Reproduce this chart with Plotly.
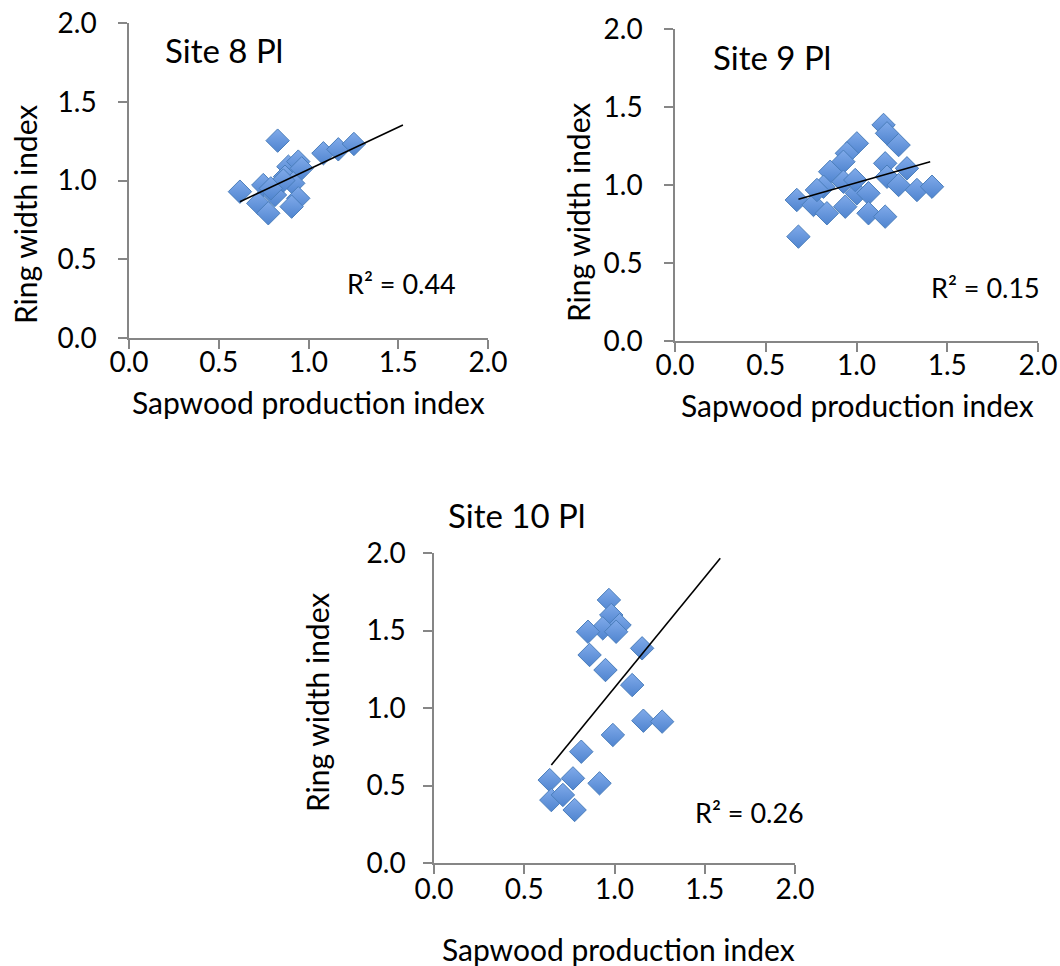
import plotly.graph_objects as go

# ---------------- data ----------------
site8_x = [0.828, 1.083, 1.166, 1.253, 0.618, 0.748, 0.720, 0.776, 0.888, 0.943,
           0.962, 0.869, 0.915, 0.943, 0.906, 0.813, 0.860, 0.790]
site8_y = [1.253, 1.173, 1.198, 1.232, 0.929, 0.971, 0.855, 0.792, 1.088, 1.120,
           1.077, 1.024, 0.982, 0.887, 0.834, 0.908, 1.000, 0.950]
site8_fit_x = [0.618, 1.526]
site8_fit_y = [0.865, 1.352]
site8_r2 = "R² = 0.44"

site9_x = [1.149, 1.168, 1.232, 1.002, 0.947, 0.928, 0.855, 1.158, 1.278, 1.168,
           1.232, 1.333, 1.416, 0.671, 0.763, 0.818, 0.837, 0.928, 1.002, 0.938,
           1.066, 1.066, 1.158, 0.680, 0.993, 0.782]
site9_y = [1.385, 1.331, 1.256, 1.267, 1.203, 1.149, 1.085, 1.139, 1.107, 1.053,
           1.000, 0.968, 0.989, 0.904, 0.872, 0.989, 0.819, 1.021, 0.947, 0.861,
           0.947, 0.819, 0.797, 0.669, 1.032, 0.968]
site9_fit_x = [0.680, 1.406]
site9_fit_y = [0.908, 1.149]
site9_r2 = "R² = 0.15"

site10_x = [0.969, 0.982, 1.028, 0.935, 1.009, 0.853, 0.862, 1.153, 0.950, 1.098,
            1.160, 1.264, 0.991, 0.816, 0.641, 0.770, 0.917, 0.650, 0.714, 0.779]
site10_y = [1.697, 1.600, 1.535, 1.514, 1.492, 1.492, 1.342, 1.385, 1.245, 1.148,
            0.918, 0.912, 0.826, 0.718, 0.535, 0.546, 0.514, 0.406, 0.439, 0.342]
site10_fit_x = [0.650, 1.586]
site10_fit_y = [0.632, 1.966]
site10_r2 = "R² = 0.26"

titles = ["Site 8 Pl", "Site 9 Pl", "Site 10 Pl"]
x_title = "Sapwood production index"
y_title = "Ring width index"
tick_vals = [0.0, 0.5, 1.0, 1.5, 2.0]
tick_text = ["0.0", "0.5", "1.0", "1.5", "2.0"]

# ---------------- layout helpers ----------------
W, H = 1060, 966
FONT = "Lato"
AXIS_COLOR = "#868686"
MARKER_FILL = "#80AAEA"
MARKER_GRAD = "#4F84CF"
MARKER_LINE = "#4A7EBB"


def px(x):
    return x / W


def py(y):
    return 1 - y / H


# pixel boxes of each plot area: (left, right, top, bottom)
boxes = [(129, 488, 23, 338), (675, 1038, 29, 341), (434, 795, 553, 863)]
x_label_standoff = [-10, -10, -8]
y_label_standoff = [16, 16, 12]

fig = go.Figure()
series = [
    (site8_x, site8_y, site8_fit_x, site8_fit_y),
    (site9_x, site9_y, site9_fit_x, site9_fit_y),
    (site10_x, site10_y, site10_fit_x, site10_fit_y),
]
for i, (sx, sy, fx, fy) in enumerate(series):
    n = "" if i == 0 else str(i + 1)
    fig.add_trace(go.Scatter(
        x=sx, y=sy, mode="markers", xaxis="x" + n, yaxis="y" + n,
        marker=dict(symbol="diamond", size=18, color=MARKER_FILL,
                    gradient=dict(type="vertical", color=MARKER_GRAD),
                    line=dict(color=MARKER_LINE, width=1)),
        showlegend=False, hoverinfo="skip"))
    fig.add_trace(go.Scatter(
        x=fx, y=fy, mode="lines", xaxis="x" + n, yaxis="y" + n,
        line=dict(color="black", width=1.6),
        showlegend=False, hoverinfo="skip"))

axis_common = dict(
    range=[0, 2], tickvals=tick_vals, ticktext=tick_text,
    showgrid=False, zeroline=False, showline=True,
    linecolor=AXIS_COLOR, linewidth=1.5,
    ticks="outside", ticklen=9, tickwidth=1.5, tickcolor=AXIS_COLOR,
    tickfont=dict(family=FONT, size=28, color="black"),
    fixedrange=True, automargin=False,
)

layout = dict(
    width=W, height=H, margin=dict(l=0, r=0, t=0, b=0, pad=0),
    paper_bgcolor="white", plot_bgcolor="white",
    showlegend=False,
)
for i, (l, r, t, b) in enumerate(boxes):
    n = "" if i == 0 else str(i + 1)
    layout["xaxis" + n] = dict(axis_common, domain=[px(l), px(r)],
                               anchor="y" + n,
                               ticklabelstandoff=x_label_standoff[i])
    layout["yaxis" + n] = dict(axis_common, domain=[py(b), py(t)],
                               anchor="x" + n,
                               ticklabelstandoff=y_label_standoff[i])

fig.update_layout(**layout)

# text annotations (titles, axis titles, R²)
texts = [
    # (text, x, y, size, angle)
    (titles[0], 224, 50, 33, 0),
    (titles[1], 772, 57, 33, 0),
    (titles[2], 517, 515, 33, 0),
    (x_title, 308, 402, 30, 0),
    (x_title, 857, 405, 30, 0),
    (x_title, 618, 949, 30, 0),
    (y_title, 25, 215, 30, -90),
    (y_title, 578, 213, 30, -90),
    (y_title, 317, 703, 30, -90),
    (site8_r2, 401, 283, 27, 0),
    (site9_r2, 985, 287, 27, 0),
    (site10_r2, 749, 812, 27, 0),
]
for txt, x, y, size, ang in texts:
    fig.add_annotation(text=txt, x=px(x), y=py(y), xref="paper", yref="paper",
                       showarrow=False, textangle=ang,
                       xanchor="center", yanchor="middle",
                       font=dict(family=FONT, size=size, color="black"))

fig.write_html(
    "out.html",
    config={"displayModeBar": False},
    post_script="document.body.style.margin='0';document.body.style.overflow='hidden';",
)
